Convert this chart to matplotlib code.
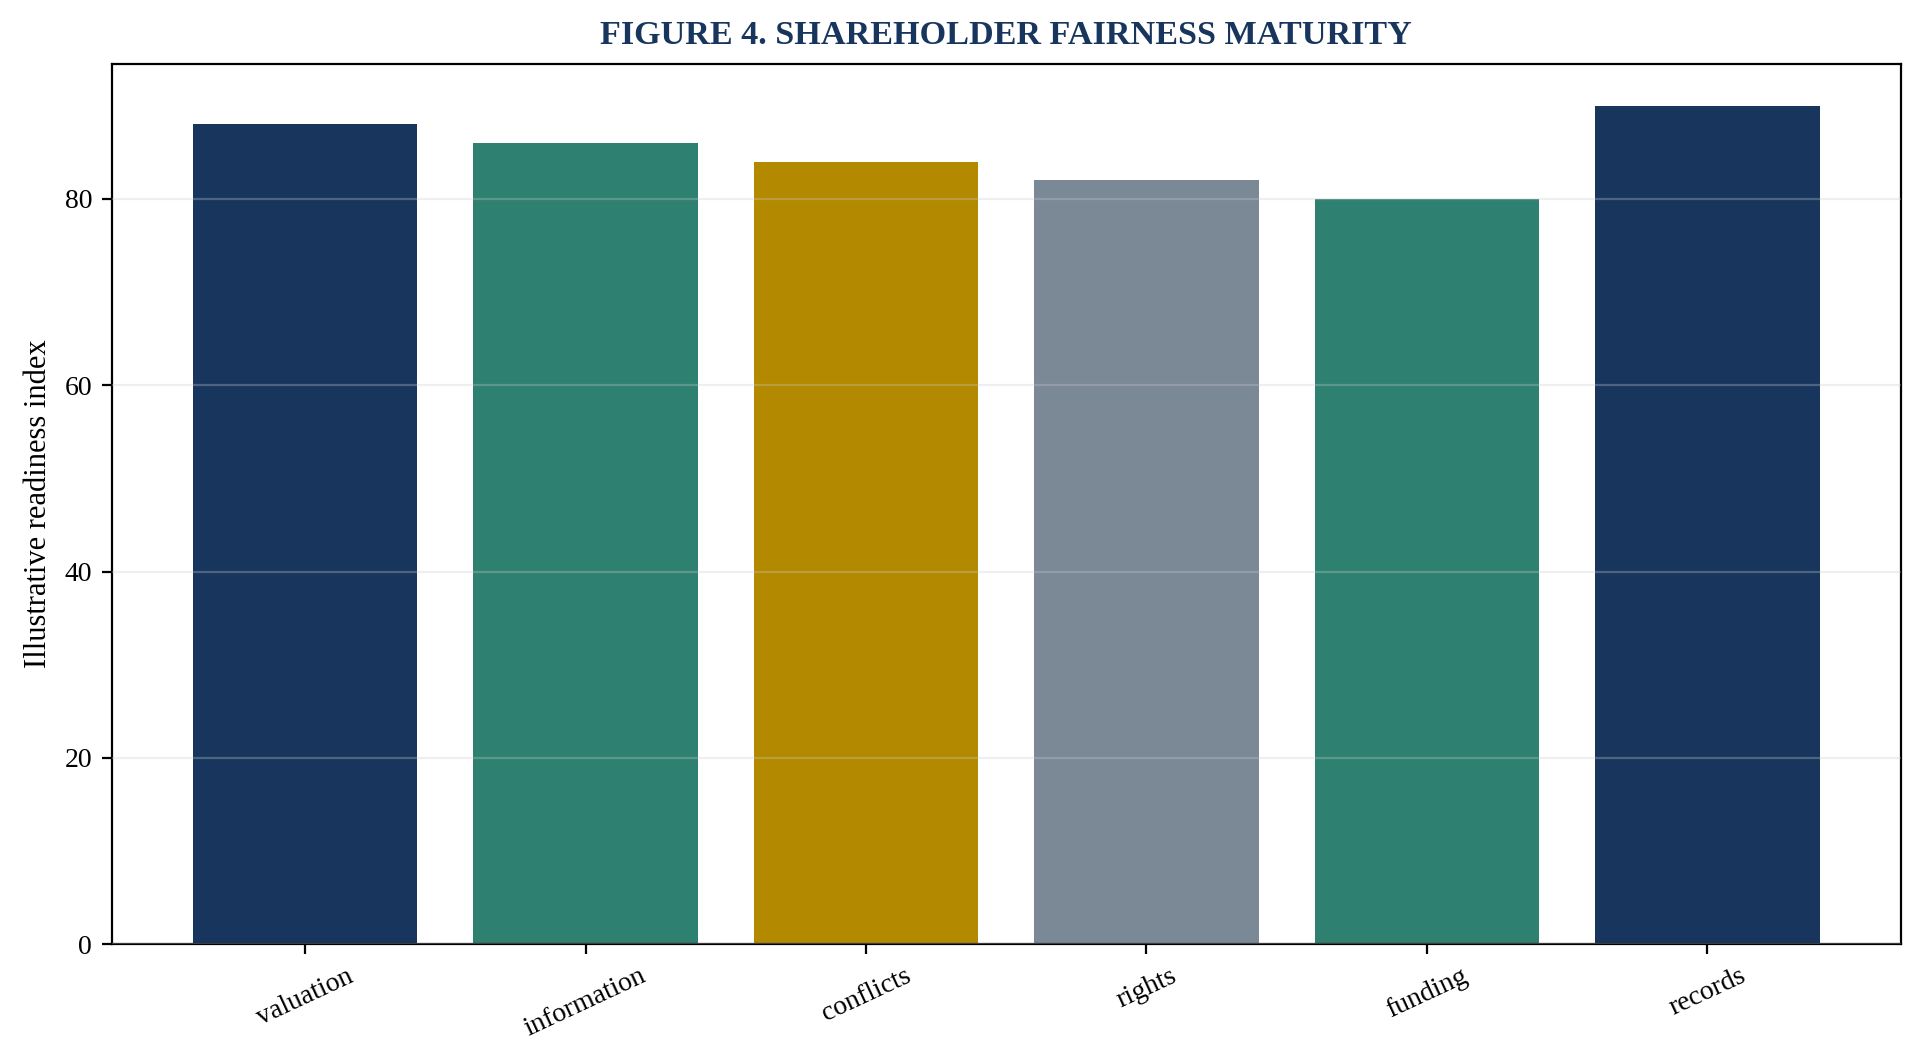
import matplotlib
matplotlib.use("Agg")
import matplotlib.pyplot as plt

categories = ["valuation", "information", "conflicts", "rights", "funding", "records"]
values = [88, 86, 84, 82, 80, 90]
colors = ["#18365d", "#2e8170", "#b38900", "#7b8896", "#2e8170", "#18365d"]

plt.rcParams['font.family'] = ['Liberation Serif', 'DejaVu Serif']

fig, ax = plt.subplots(figsize=(9.62, 5.305), dpi=200)
fig.subplots_adjust(left=0.058, right=0.988, top=0.94, bottom=0.11)

x = list(range(len(categories)))
ax.bar(x, values, width=0.8, color=colors, zorder=1)
ax.set_xticks(x)
ax.set_xticklabels(categories, rotation=25, ha='center', fontsize=10)
ax.tick_params(axis='y', labelsize=10)
ax.set_ylabel("Illustrative readiness index", fontsize=11)
ax.set_title("FIGURE 4. SHAREHOLDER FAIRNESS MATURITY", fontsize=12.3,
             fontweight='bold', color="#18365d", pad=7)
ax.yaxis.grid(True, color="#cccccc", alpha=0.3, linewidth=0.8, zorder=2)
ax.set_axisbelow(False)
for s in ax.spines.values():
    s.set_linewidth(0.8)

fig.savefig("out.png", dpi=200)
